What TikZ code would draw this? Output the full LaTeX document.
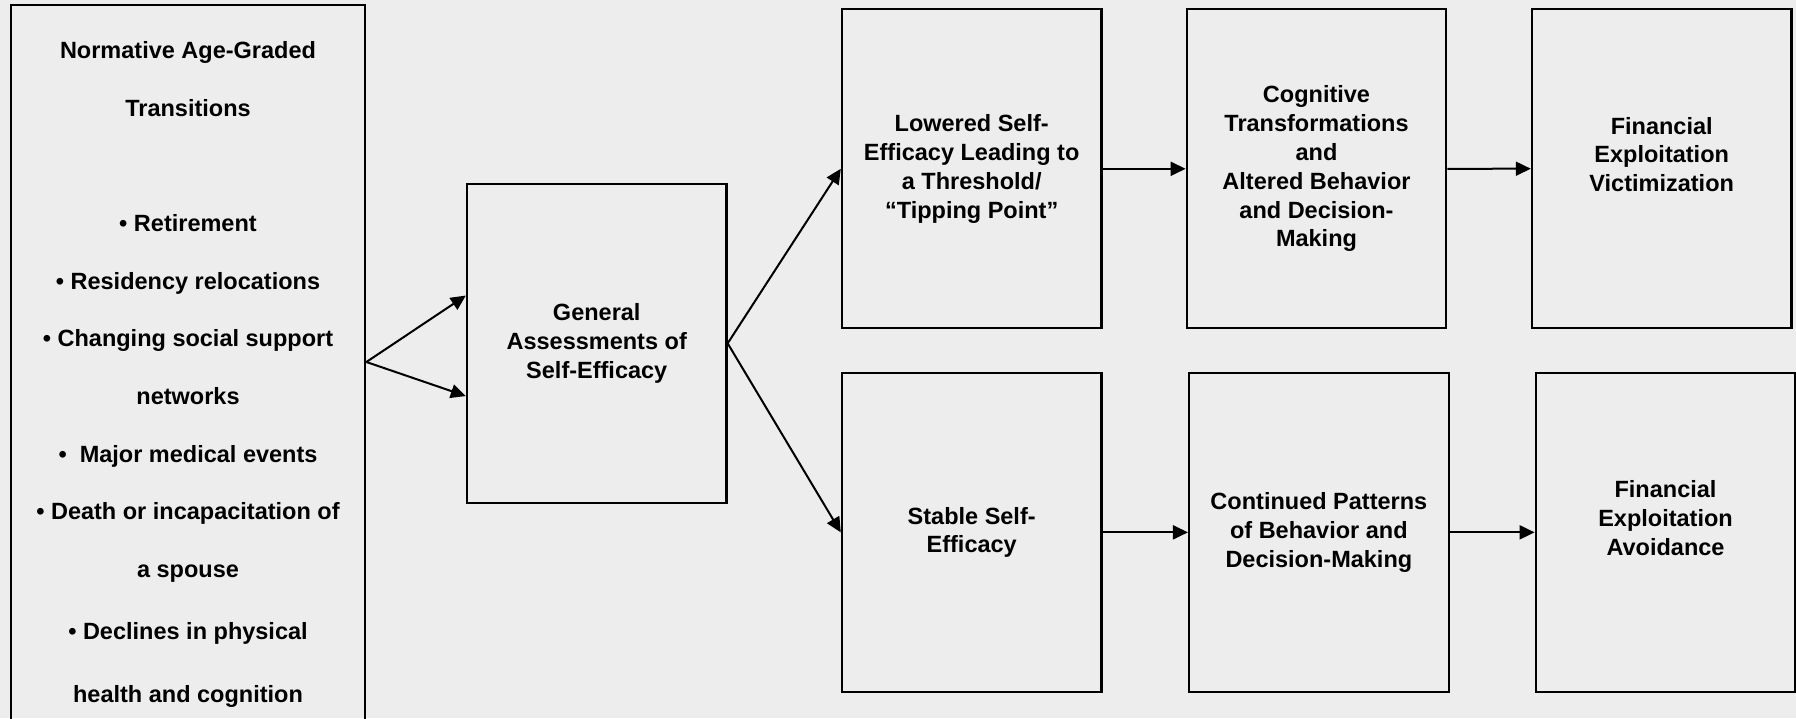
\documentclass[tikz,border=0pt]{standalone}
\usepackage{fontspec}
\setmainfont{Liberation Sans}
\usetikzlibrary{arrows.meta}
\definecolor{bgc}{RGB}{237,237,237}
\tikzset{
  boxnode/.style={draw=black, line width=2.2pt, rectangle, align=center,
    minimum width=259.6pt, minimum height=319pt, inner sep=0pt,
    font=\fontsize{23.5}{28.8}\selectfont\bfseries},
  conn/.style={line width=2pt, -{Triangle[length=15pt,width=14pt]}},
}
\begin{document}
\begin{tikzpicture}[x=1pt,y=-1pt]
\useasboundingbox (0,0) rectangle (1796,718);
\clip (0,0) rectangle (1796,718);
\fill[bgc] (0,0) rectangle (1796,718);

\node[boxnode, minimum width=354.6pt, minimum height=739.6pt,
  font=\fontsize{23.5}{57.5}\selectfont\bfseries] (L) at (188,374.5)
  {Normative Age-Graded\\[0.8pt]Transitions\\ \mbox{}\\[-0.6pt]
   • Retirement\\[0.8pt]• Residency relocations\\[-0.8pt]• Changing social support\\[0.8pt]networks\\[0.8pt]
   •\ \ Major medical events\\[-0.8pt]• Death or incapacitation of\\[0.8pt]a spouse\\[4.2pt]
   • Declines in physical\\[5.8pt]health and cognition};

\node[boxnode, minimum height=318.7pt] (G) at (596.75,343.35)
  {General\\Assessments of\\Self-Efficacy};

\node[boxnode] (low) at (971.7,168.8)
  {Lowered Self-\\Efficacy Leading to\\a Threshold/\\“Tipping Point”};
\node[boxnode] (cog) at (1316.5,168.8)
  {Cognitive\\Transformations\\and\\Altered Behavior\\and Decision-\\Making};
\node[boxnode] (fint) at (1661.7,168.7)
  {Financial\\Exploitation\\Victimization\\ \mbox{}};

\node[boxnode, minimum height=318.7pt] (stab) at (971.7,532.35)
  {Stable Self-\\Efficacy};
\node[boxnode, minimum height=318.7pt] (cont) at (1318.85,532.35)
  {Continued Patterns\\of Behavior and\\Decision-Making};
\node[boxnode, minimum height=318.7pt] (finb) at (1665.5,532.35)
  {Financial\\Exploitation\\Avoidance\\ \mbox{}};

\draw[conn] ([yshift=12.5pt]L.east) -- ([yshift=47.8pt]G.west);
\draw[conn] ([yshift=12.5pt]L.east) -- ([yshift=-52.7pt]G.west);
\draw[conn] (G.east) -- (low.west);
\draw[conn] (G.east) -- (stab.west);
\draw[conn] (low.east) -- (cog.west);
\draw[conn] (cog.east) -- (fint.west);
\draw[conn] (stab.east) -- (cont.west);
\draw[conn] (cont.east) -- (finb.west);
\end{tikzpicture}
\end{document}
